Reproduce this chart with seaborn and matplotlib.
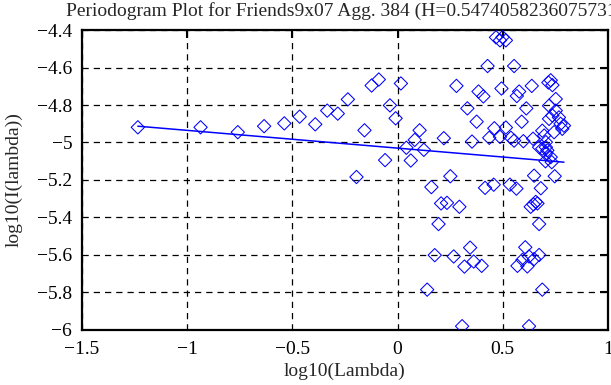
"""
Periodogram plot for Friends9x07, aggregation level 384
Log-log periodogram with least-squares fit (Hurst estimate in title)
"""

import numpy as np
import pandas as pd
import matplotlib
matplotlib.use('Agg')
import matplotlib.pyplot as plt
import seaborn as sns

# log10(Lambda) values of the periodogram points
log_lambda = [
    -1.234, -0.936, -0.759, -0.634, -0.538, -0.465, -0.391, -0.334, -0.284, -0.236,
    -0.157, -0.195, -0.123, -0.089, -0.036, 0.016, -0.009, -0.059, 0.063, 0.105,
    0.082, 0.042, 0.125, 0.220, 0.161, 0.141, 0.177, 0.195, 0.207, 0.235,
    0.294, 0.251, 0.267, 0.345, 0.362, 0.318, 0.400, 0.307, 0.280, 0.332,
    0.376, 0.354, 0.385, 0.408, 0.428, 0.416, 0.457, 0.436, 0.460, 0.487,
    0.515, 0.494, 0.468, 0.499, 0.515, 0.487, 0.554, 0.539, 0.554, 0.534,
    0.565, 0.578, 0.567, 0.638, 0.612, 0.590, 0.598, 0.644, 0.688, 0.673,
    0.705, 0.705, 0.728, 0.703, 0.733, 0.649, 0.681, 0.747, 0.633, 0.657,
    0.665, 0.646, 0.673, 0.607, 0.570, 0.594, 0.625, 0.617, 0.649, 0.673,
    0.688, 0.625, 0.717, 0.736, 0.728, 0.752, 0.720, 0.720, 0.752, 0.767,
    0.775, 0.791, 0.783, 0.744, 0.697, 0.705, 0.688, 0.712, 0.736,
]

# log10(I(lambda)) values of the periodogram points
log_power = [
    -4.919, -4.919, -4.945, -4.913, -4.898, -4.862, -4.903, -4.830, -4.846, -4.770,
    -4.935, -5.184, -4.696, -4.664, -4.802, -4.685, -4.871, -5.094, -5.096, -4.935,
    -4.986, -5.028, -5.039, -4.977, -5.238, -5.785, -5.601, -5.435, -5.325, -5.322,
    -5.343, -5.180, -5.608, -5.561, -5.635, -5.662, -5.658, -5.980, -4.698, -4.818,
    -4.889, -4.995, -4.728, -4.754, -4.592, -5.242, -5.225, -4.975, -4.924, -4.970,
    -4.920, -4.712, -4.439, -4.438, -4.455, -4.455, -4.592, -4.975, -4.990, -5.225,
    -5.246, -4.728, -4.752, -4.698, -4.818, -4.889, -4.993, -4.980, -4.937, -5.025,
    -5.025, -5.060, -5.078, -5.100, -5.105, -5.177, -5.244, -5.180, -5.343, -5.317,
    -5.325, -5.330, -5.435, -5.559, -5.658, -5.626, -5.608, -5.661, -5.622, -5.600,
    -5.785, -5.980, -4.680, -4.694, -4.668, -4.768, -4.804, -4.874, -4.830, -4.866,
    -4.900, -4.910, -4.927, -4.945, -4.963, -4.998, -5.033, -5.042, -4.856,
]

# least-squares fit (slope = 1 - 2H)
fit_slope = -0.0948
fit_intercept = -5.030

title_text = 'Periodogram Plot for Friends9x07 Agg. 384 (H=0.5474058236075731)'
x_ticks = [-1.5, -1, -0.5, 0, 0.5, 1]
y_ticks = [-6, -5.8, -5.6, -5.4, -5.2, -5, -4.8, -4.6, -4.4]


def fmt_tick(v):
    """MATLAB style tick label with a real minus sign"""
    s = f'{v:g}'
    return s.replace('-', '\u2212')


def main():
    df = pd.DataFrame({'log_lambda': log_lambda, 'log_power': log_power})

    sns.set_style('white')
    plt.rcParams['font.family'] = ['Liberation Serif', 'DejaVu Serif']

    fig = plt.figure(figsize=(6.11, 3.85), dpi=100)
    ax = fig.add_axes([0.134, 0.143, 0.861, 0.779])

    # Periodogram points: open blue diamonds
    sns.scatterplot(data=df, x='log_lambda', y='log_power', marker='D', s=46,
                    facecolors='none', edgecolor='blue', linewidth=0.75, ax=ax, zorder=3)

    # Fitted line across the data range
    x_fit = np.array([df['log_lambda'].min(), df['log_lambda'].max()])
    ax.plot(x_fit, fit_slope * x_fit + fit_intercept, color='blue', linewidth=1.1, zorder=4)

    ax.set_xlim(-1.5, 1)
    ax.set_ylim(-6, -4.4)
    ax.set_xticks(x_ticks)
    ax.set_xticklabels([fmt_tick(v) for v in x_ticks])
    ax.set_yticks(y_ticks)
    ax.set_yticklabels([fmt_tick(v) for v in y_ticks])

    ax.grid(True, color='black', linestyle=(0, (5, 4)), linewidth=0.9)
    ax.set_axisbelow(True)
    ax.tick_params(direction='in', length=6, width=1.5, top=True, right=True,
                   labelsize=14, colors='black')
    ax.tick_params(axis='y', pad=7)
    ax.tick_params(axis='x', pad=8)
    for spine in ax.spines.values():
        spine.set_color('black')
        spine.set_linewidth(1.6)

    ax.set_xlabel('log10(Lambda)', fontsize=14, labelpad=3)
    ax.set_ylabel('log10(I(lambda))', fontsize=14, labelpad=10)
    ax.set_title(title_text, fontsize=14, pad=10)

    fig.savefig('out.png', dpi=100)
    plt.close(fig)


if __name__ == "__main__":
    main()
